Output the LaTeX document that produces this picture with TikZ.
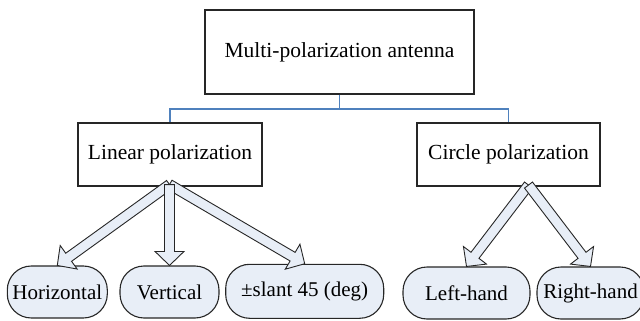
\documentclass[tikz,border=0pt]{standalone}
\usepackage{fontspec}
\setmainfont{Liberation Serif}
\newfontfamily\diagfont{Liberation Serif}
\usetikzlibrary{calc}
\definecolor{lightfill}{HTML}{E8EEF7}
\definecolor{connblue}{HTML}{4F81BD}
\tikzset{
  plainbox/.style={draw=black!85, line width=1.1pt, minimum width=#1, inner sep=0pt, font=\diagfont\fontsize{21.5}{25}\selectfont},
  roundbox/.style={draw=black!85, line width=1.1pt, fill=lightfill, rounded corners=24pt, minimum width=#1, minimum height=52pt, inner sep=0pt, font=\diagfont\fontsize{21}{25}\selectfont},
  barrow/.style={draw=black!85, line width=0.9pt, fill=lightfill, line join=miter},
  bluelink/.style={draw=connblue, line width=1.2pt}
}
\newcommand\blockarrow[2]{%
  \coordinate (ba-h) at ($(#2)!14pt!(#1)$);
  \filldraw[barrow] ($(#1)!5pt!90:(#2)$) -- ($(ba-h)!5pt!-90:(#1)$) -- ($(ba-h)!14.5pt!-90:(#1)$) -- (#2) -- ($(ba-h)!14.5pt!90:(#1)$) -- ($(ba-h)!5pt!90:(#1)$) -- ($(#1)!5pt!-90:(#2)$) -- cycle;}
\begin{document}
\begin{tikzpicture}[x=1pt,y=-1pt]
\useasboundingbox (0,0) rectangle (640,321);
% top level
\node[plainbox=269pt, minimum height=84pt] (top) at (339.5,52) {Multi-polarization antenna};
\node[plainbox=184pt, minimum height=63pt] (lin) at (170,154.5) {Linear polarization};
\node[plainbox=183pt, minimum height=63pt] (cir) at (508.5,154.5) {Circle polarization};
% blue connectors
\coordinate (jn) at ($(top.south)+(0,14.5)$);
\draw[bluelink] (top.south) -- (jn) -| (lin.north);
\draw[bluelink] (jn) -| (cir.north);
% leaves
\node[roundbox=100pt] (hor) at (57.3,292) {Horizontal};
\node[roundbox=99pt] (ver) at (169.5,292) {Vertical};
\node[roundbox=158pt, minimum height=54pt] (sla) at (304.7,291.3) {±slant 45 (deg)};
\node[roundbox=127pt] (lh) at (466.5,293) {Left-hand};
\node[roundbox=107pt] (rh) at (590.5,293) {Right-hand};
% arrows
\coordinate (ls) at ($(lin.south)+(-0.5,-2)$);
\coordinate (cs) at ($(cir.south)+(20,-1.5)$);
\blockarrow{ls}{hor.north}
\blockarrow{ls}{sla.north}
\blockarrow{ls}{ver.north}
\blockarrow{cs}{lh.north}
\blockarrow{cs}{rh.north}
\end{tikzpicture}
\end{document}
